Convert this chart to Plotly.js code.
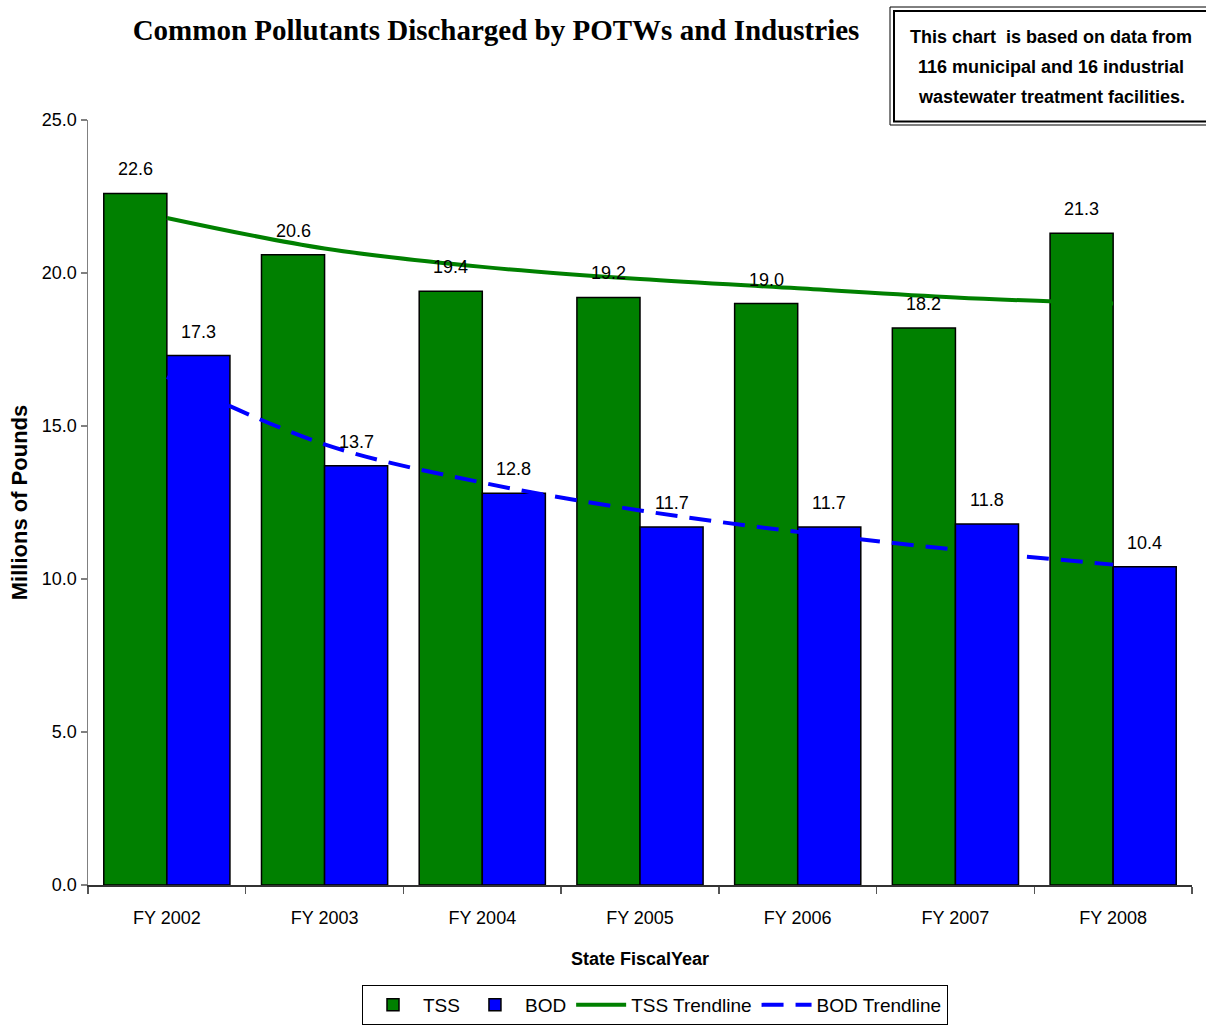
<!DOCTYPE html>
<html>
<head>
<meta charset="utf-8">
<script src="https://cdn.plot.ly/plotly-3.0.1.min.js"></script>
<style>html,body{margin:0;padding:0;background:#fff;}#chart{width:1206px;height:1026px;}</style>
</head>
<body>
<div id="chart"></div>
<script>
var categories = ["FY 2002", "FY 2003", "FY 2004", "FY 2005", "FY 2006", "FY 2007", "FY 2008"];
var tssValues = [22.6, 20.6, 19.4, 19.2, 19.0, 18.2, 21.3];
var bodValues = [17.3, 13.7, 12.8, 11.7, 11.7, 11.8, 10.4];
var tssTrend = [21.8, 20.8, 20.2, 19.8, 19.5, 19.2, 19.0];
var bodTrend = [16.6, 14.4, 13.15, 12.24, 11.54, 10.96, 10.47];
var yTicks = [0, 5, 10, 15, 20, 25];

var F = "Arial, 'Liberation Sans', sans-serif";
var BARGAP = 0.2;
var halfOffset = (1 - BARGAP) / 4; // centre of each bar within its group, in category units

var traces = [
  {type: "bar", name: "TSS", x: categories, y: tssValues,
   marker: {color: "#008000", line: {color: "#000", width: 1.5}}, hoverinfo: "skip"},
  {type: "bar", name: "BOD", x: categories, y: bodValues,
   marker: {color: "#0000FF", line: {color: "#000", width: 1.5}}, hoverinfo: "skip"},
  {type: "scatter", mode: "lines", name: "TSS Trendline", x: categories, y: tssTrend,
   line: {color: "#008000", width: 4, shape: "spline"}, hoverinfo: "skip"},
  {type: "scatter", mode: "lines", name: "BOD Trendline", x: categories, y: bodTrend,
   line: {color: "#0000FF", width: 4, shape: "spline", dash: "22px,12px"}, hoverinfo: "skip"}
];

var labelAnns = [];
function addLabels(vals, shift) {
  vals.forEach(function(v, i) {
    labelAnns.push({xref: "x", yref: "y", x: i + shift, y: v, text: v.toFixed(1),
      showarrow: false, xanchor: "center", yanchor: "middle", yshift: 24,
      font: {family: F, size: 18, color: "#000"}});
  });
}
addLabels(tssValues, -halfOffset);
addLabels(bodValues, halfOffset);

var boxAnns = [
  ["This chart\u00a0 is based on data from", 37],
  ["116 municipal and 16 industrial", 67],
  ["wastewater treatment facilities.", 97]
].map(function(l) {
  return {text: l[0], xref: "paper", yref: "paper", x: (1051-88)/1104, y: (885-l[1])/765,
    xanchor: "center", yanchor: "middle", showarrow: false,
    font: {family: F, size: 18, color: "#000", weight: "bold"}};
});

var layout = {
  width: 1206, height: 1026,
  margin: {l: 88, r: 14, t: 120, b: 141},
  paper_bgcolor: "#fff", plot_bgcolor: "#fff",
  showlegend: true,
  barmode: "group", bargap: BARGAP, bargroupgap: 0,
  title: {text: "Common Pollutants Discharged by POTWs and Industries",
          font: {family: "'Times New Roman', 'Liberation Serif', serif", size: 29, color: "#000", weight: "bold"},
          xref: "container", yref: "container", x: 496/1206, xanchor: "center", y: 1 - 30/1026, yanchor: "middle"},
  xaxis: {type: "category", showgrid: false, zeroline: false,
          showline: true, linecolor: "#333", linewidth: 1.5,
          ticks: "outside", tickson: "boundaries", ticklen: 7, tickcolor: "#555", tickwidth: 1.5,
          ticklabelstandoff: 16,
          tickfont: {family: F, size: 18, color: "#000"},
          title: {text: "State FiscalYear", font: {family: F, size: 18, color: "#000", weight: "bold"}, standoff: 25}},
  yaxis: {range: [0, 25], tickvals: yTicks, tickformat: ".1f", showgrid: false, zeroline: false,
          showline: true, linecolor: "#808080", linewidth: 1.5,
          ticks: "outside", ticklen: 6, tickcolor: "#808080", tickwidth: 1.5,
          tickfont: {family: F, size: 18, color: "#000"},
          title: {text: "Millions of Pounds", font: {family: F, size: 22, color: "#000", weight: "bold"}, standoff: 8}},
  legend: {orientation: "h", xref: "paper", x: (655-88)/1104, xanchor: "center",
           yref: "container", y: 1 - 1005/1026, yanchor: "middle",
           bordercolor: "#000", borderwidth: 1, bgcolor: "#fff",
           font: {family: F, size: 19, color: "#000"}, traceorder: "normal", itemwidth: 50},
  shapes: [
    {type: "rect", xref: "paper", yref: "paper", x0: (890-88)/1104, x1: (1215-88)/1104,
     y0: (885-125)/765, y1: (885-7)/765, line: {color: "#000", width: 1}, fillcolor: "#fff", layer: "above"},
    {type: "rect", xref: "paper", yref: "paper", x0: (894-88)/1104, x1: (1211-88)/1104,
     y0: (885-121.5)/765, y1: (885-11)/765, line: {color: "#000", width: 2}, layer: "above"}
  ],
  annotations: labelAnns.concat(boxAnns)
};

Plotly.newPlot("chart", traces, layout, {displayModeBar: false, staticPlot: true});
</script>
</body>
</html>
